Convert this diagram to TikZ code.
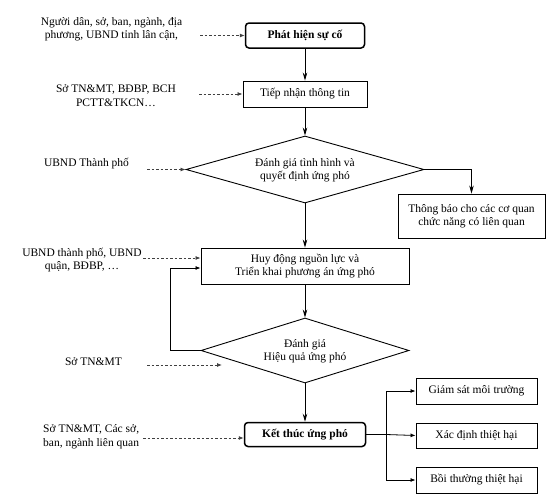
\documentclass[tikz,border=0pt]{standalone}
\usepackage{fontspec}
\setmainfont{Liberation Serif}
\usetikzlibrary{shapes.geometric,arrows.meta,calc}
\begin{document}
\begin{tikzpicture}[x=1pt,y=-1pt,
  every node/.style={font=\fontsize{11.5}{13.5}\selectfont},
  box/.style={draw,line width=0.9pt,inner sep=0pt,align=center},
  rbox/.style={draw,line width=1.5pt,rounded corners=3.5pt,inner sep=0pt,align=center,font=\fontsize{11.5}{13.5}\selectfont\bfseries},
  dia/.style={draw,line width=0.9pt,diamond,inner sep=0pt,align=center},
  lbl/.style={inner sep=0pt,align=center},
  flow/.style={line width=0.8pt,-{Stealth[length=8pt,width=4.5pt]}},
  side/.style={line width=0.8pt,-{Latex[length=5pt,width=4pt]}},
  dsh/.style={line width=0.8pt,draw=black!75,dash pattern=on 2.5pt off 2pt,-{Latex[length=5pt,width=4pt]}}]
\useasboundingbox (0,0) rectangle (558,498);
% main column
\node[rbox,minimum width=119pt,minimum height=25pt] (p1) at (305,35.5) {Phát hiện sự cố};
\node[box,minimum width=124pt,minimum height=26pt] (p2) at (305,94) {Tiếp nhận thông tin};
\node[dia,minimum width=238pt,minimum height=67pt,aspect=3.5] (d1) at (305,169.5) {};
\node[lbl] (d1t) at (305,170) {Đánh giá tình hình và\\quyết định ứng phó};
\node[box,minimum width=147pt,minimum height=44pt] (n1) at (471.5,216) {Thông báo cho các cơ quan\\chức năng có liên quan};
\node[box,minimum width=208pt,minimum height=36pt] (p3) at (305,266) {Huy động nguồn lực và\\Triển khai phương án ứng phó};
\node[dia,minimum width=208pt,minimum height=65pt,aspect=3.2] (d2) at (305,350.5) {};
\node[lbl] (d2t) at (305,351) {Đánh giá\\Hiệu quả ứng phó};
\node[rbox,minimum width=121pt,minimum height=24pt] (p4) at (305,434.5) {Kết thúc ứng phó};
\node[box,minimum width=121pt,minimum height=26pt] (r1) at (476.5,391) {Giám sát môi trường};
\node[box,minimum width=121pt,minimum height=25pt] (r2) at (476.5,435.5) {Xác định thiệt hại};
\node[box,minimum width=121pt,minimum height=26pt] (r3) at (476.5,480) {Bồi thường thiệt hại};
% side labels
\node[lbl] (t1) at (111.5,29) {Người dân, sở, ban, ngành, địa\\phương, UBND tỉnh lân cận,};
\node[lbl] (t2) at (116,95.5) {Sở TN\&MT, BĐBP, BCH\\PCTT\&TKCN…};
\node[lbl] (t3) at (86.5,164) {UBND Thành phố};
\node[lbl] (t4) at (82,260) {UBND thành phố, UBND\\quận, BĐBP, …};
\node[lbl] (t5) at (93.5,362) {Sở TN\&MT};
\node[lbl,align=left,anchor=west] (t6) at (43,436.5) {Sở TN\&MT, Các sở,\\ban, ngành liên quan};
% coordinates
\coordinate (a1) at (200,35.5);
\coordinate (a2) at (199,94);
\coordinate (a3) at (147,169.5);
\coordinate (a4) at (143,258);
\coordinate (a5) at (147,365);
\coordinate (a5e) at (222,365);
\coordinate (a6) at (143,438);
\coordinate (loop) at (170,350.5);
\coordinate (split) at (386,434.5);
% flow connectors
\draw[flow] (p1) -- (p2);
\draw[flow] (p2) -- (d1.north);
\draw[flow] (d1.south) -- (p3);
\draw[flow] (p3) -- (d2.north);
\draw[flow] (d2.south) -- (p4);
\draw[flow] (d1.east) -| (n1.north);
\draw[side] (d2.west) -- (loop) |- ($(p3.west)+(0,2)$);
\draw[line width=0.8pt] (p4.east) -- (split);
\draw[side] (split) |- (r1.west);
\draw[side] (split) -- (r2.west);
\draw[side] (split) |- (r3.west);
% dashed inputs
\draw[dsh] (a1) -- (p1.west);
\draw[dsh] (a2) -- (p2.west);
\draw[dsh] (a3) -- (d1.west);
\draw[dsh] (a4) -- ($(p3.west)+(0,-8)$);
\draw[dsh] (a5) -- (a5e);
\draw[dsh] (a6) -- ($(p4.west)+(0,3.5)$);
\end{tikzpicture}
\end{document}
